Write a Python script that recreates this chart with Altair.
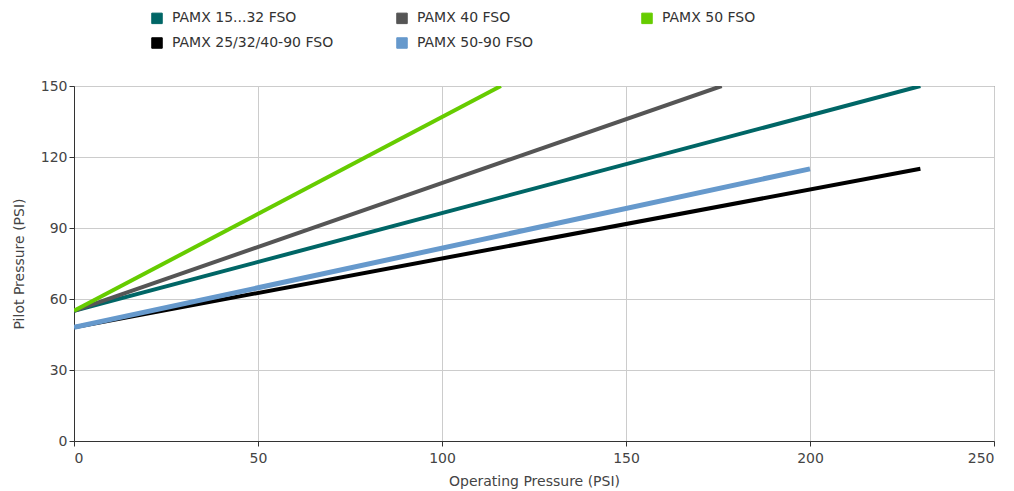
import altair as alt
import pandas as pd

series = ["PAMX 15...32 FSO", "PAMX 40 FSO", "PAMX 50 FSO",
          "PAMX 25/32/40-90 FSO", "PAMX 50-90 FSO"]
colors = ["#006666", "#555555", "#66cc00", "#000000", "#6699cc"]
widths = [4, 4, 4, 4, 5]

# operating pressure (x) and pilot pressure (y) endpoints per series
op_15_32 = [0, 230]
pil_15_32 = [55, 150]
op_40 = [0, 176]
pil_40 = [55, 150]
op_50 = [0, 116]
pil_50 = [55, 150]
op_25_90 = [0, 230]
pil_25_90 = [48, 115]
op_50_90 = [0, 200]
pil_50_90 = [48, 115]

xs = [op_15_32, op_40, op_50, op_25_90, op_50_90]
ys = [pil_15_32, pil_40, pil_50, pil_25_90, pil_50_90]

rows = []
for name, xv, yv, w in zip(series, xs, ys, widths):
    for a, b in zip(xv, yv):
        rows.append({"series": name, "op": a, "pilot": b, "w": w})
df = pd.DataFrame(rows)

FONT = "DejaVu Sans"

x_enc = alt.X("op:Q", scale=alt.Scale(domain=[0, 250], nice=False),
              axis=alt.Axis(title="Operating Pressure (PSI)", values=[0, 50, 100, 150, 200, 250]))
y_enc = alt.Y("pilot:Q", scale=alt.Scale(domain=[0, 150], nice=False),
              axis=alt.Axis(title="Pilot Pressure (PSI)", values=[0, 30, 60, 90, 120, 150]))
cscale = alt.Scale(domain=series, range=colors)

legend_layer = alt.Chart(df).mark_line(clip=True, filled=True).encode(
    x=x_enc, y=y_enc,
    color=alt.Color("series:N", scale=cscale,
                    legend=alt.Legend(title=None, orient="none", legendX=76, legendY=-75,
                                      direction="horizontal",
                                      columns=3, gridAlign="all", columnPadding=60,
                                      rowPadding=9, symbolType="square", symbolSize=110,
                                      symbolStrokeColor="#333", symbolStrokeWidth=1,
                                      symbolOpacity=1, labelFont=FONT, labelFontSize=14,
                                      labelOffset=8,
                                      labelColor="#333", labelLimit=400)),
    detail="series:N",
)

lines = alt.Chart(df).mark_line(clip=True).encode(
    x=x_enc, y=y_enc,
    color=alt.Color("series:N", scale=cscale, legend=None),
    strokeWidth=alt.StrokeWidth("w:Q", scale=None, legend=None),
    detail="series:N",
)

chart = alt.layer(legend_layer, lines).properties(
    width=920, height=355,
    autosize=alt.AutoSizeParams(type="none"),
    padding={"left": 66, "top": 78, "right": 10, "bottom": 50},
).configure_view(
    stroke="#555", strokeWidth=1
).configure_axis(
    labelFont=FONT, labelFontSize=14, labelColor="#444",
    titleFont=FONT, titleFontSize=14, titleColor="#444", titleFontWeight="normal",
    gridColor="#cccccc", domainColor="#333", tickColor="#333", tickSize=5,
).configure_axisY(titlePadding=14).configure_axisX(titlePadding=9, labelPadding=5)

chart.save("out.html", embed_options={"renderer": "svg", "actions": False})
